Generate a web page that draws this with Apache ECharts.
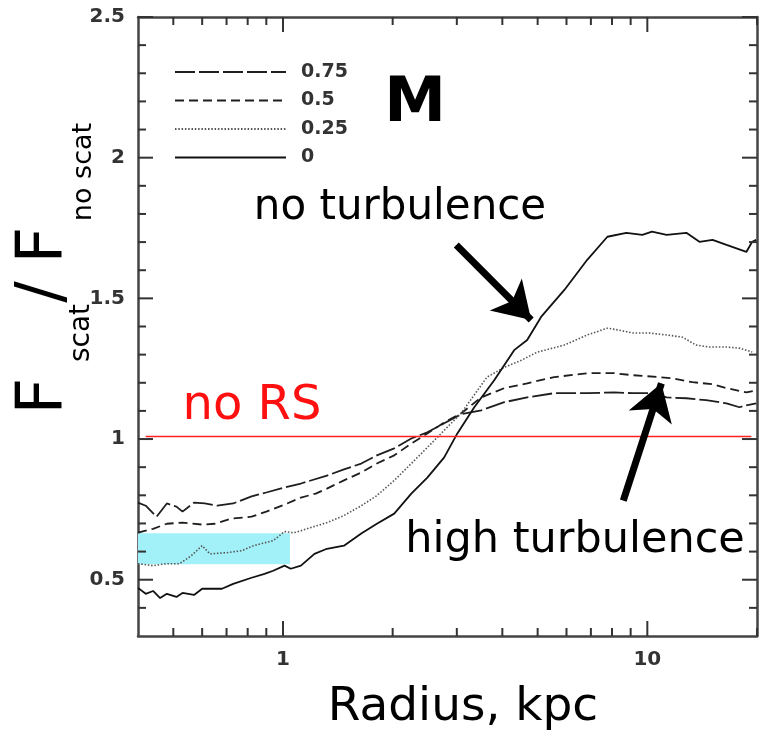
<!DOCTYPE html>
<html>
<head>
<meta charset="utf-8">
<script src="https://cdn.jsdelivr.net/npm/echarts@6/dist/echarts.min.js"></script>
<style>
html,body{margin:0;padding:0;background:#fff;}
#chart{width:760px;height:742px;}
</style>
</head>
<body>
<div id="chart"></div>
<script>
// ---- data ----
const seriesNames = ['0.75', '0.5', '0.25', '0'];

const r75 = [0.40,0.42,0.45,0.48,0.51,0.53,0.57,0.61,0.66,0.73,0.82,0.90,1.01,1.12,1.32,1.47,1.64,1.81,2.02,2.25,2.49,2.77,3.08,3.50,4.05,4.68,5.55,6.84,8.12,9.10,10.3,11.3,12.8,14.5,16.5,17.9,18.7,19.9];
const f75 = [0.774,0.763,0.724,0.771,0.760,0.742,0.774,0.771,0.763,0.771,0.796,0.810,0.828,0.842,0.870,0.892,0.913,0.942,0.967,1.002,1.024,1.056,1.088,1.102,1.131,1.148,1.163,1.163,1.166,1.163,1.163,1.148,1.145,1.138,1.127,1.113,1.120,1.127];

const r50 = [0.40,0.44,0.48,0.53,0.60,0.65,0.72,0.82,0.90,1.01,1.12,1.23,1.32,1.47,1.64,1.81,2.02,2.25,2.49,2.77,3.08,3.50,4.05,4.68,5.55,6.84,8.12,9.10,10.8,11.7,13.3,15.1,16.5,18.7,19.9];
const f50 = [0.667,0.681,0.699,0.703,0.696,0.699,0.717,0.724,0.742,0.767,0.792,0.806,0.824,0.853,0.881,0.913,0.942,0.984,1.020,1.059,1.091,1.148,1.181,1.198,1.220,1.234,1.234,1.227,1.220,1.216,1.202,1.195,1.181,1.166,1.173];

const r25 = [0.40,0.44,0.48,0.52,0.56,0.60,0.63,0.70,0.77,0.83,0.94,1.01,1.07,1.12,1.19,1.32,1.47,1.64,1.81,2.02,2.25,2.49,2.77,3.08,3.63,4.05,4.51,4.99,5.92,6.84,7.77,8.38,9.10,10.1,11.3,12.5,13.6,14.8,16.5,17.9,19.4];
const f25 = [0.557,0.550,0.557,0.557,0.585,0.621,0.592,0.596,0.603,0.621,0.639,0.671,0.667,0.674,0.685,0.703,0.728,0.763,0.799,0.853,0.913,0.970,1.031,1.091,1.220,1.255,1.280,1.309,1.334,1.370,1.394,1.387,1.377,1.377,1.370,1.362,1.334,1.327,1.327,1.323,1.309];

const r0 = [0.40,0.42,0.44,0.46,0.48,0.51,0.53,0.57,0.60,0.63,0.68,0.73,0.82,0.89,0.94,1.01,1.05,1.12,1.22,1.32,1.47,1.64,1.81,2.02,2.25,2.49,2.77,3.01,3.35,3.80,4.31,4.68,5.11,5.92,6.84,7.77,8.76,9.69,10.3,11.3,12.8,13.9,15.1,16.5,18.7,19.4,19.9];
const f0 = [0.471,0.450,0.460,0.435,0.450,0.439,0.453,0.446,0.468,0.468,0.468,0.485,0.507,0.521,0.532,0.550,0.539,0.550,0.592,0.610,0.621,0.664,0.699,0.735,0.806,0.863,0.935,1.020,1.113,1.209,1.316,1.352,1.434,1.530,1.637,1.719,1.733,1.726,1.737,1.726,1.733,1.701,1.708,1.690,1.665,1.701,1.708];

const xRange = [0.4, 20];
const yRange = [0.3, 2.5];
const xMajorTicks = [1, 10];
const xMinorTicks = [0.5,0.6,0.7,0.8,0.9,2,3,4,5,6,7,8,9,20];
const yMajorTicks = [0.5, 1, 1.5, 2, 2.5];
const yMinorTicks = [0.4,0.6,0.7,0.8,0.9,1.1,1.2,1.3,1.4,1.6,1.7,1.8,1.9,2.1,2.2,2.3,2.4];

// annotations (data coordinates)
const noRsLevel = 1.01;
const noRsX = [0.42, 19.3];
const highlightX = [0.4, 1.045];
const highlightY = [0.555, 0.665];
const arrowNoTurb = [[2.99, 1.69], [4.80, 1.423]];
const arrowHighTurb = [[8.59, 0.781], [10.93, 1.198]];

// ---- chart ----
const zip = (xs, ys) => xs.map((x, i) => [x, ys[i]]);
const FONT = 'DejaVu Sans';
const AX = '#333';
const MAJOR_LEN = 15, MINOR_LEN = 8;

function xAx(pos, labels) {
  return {
    type: 'log', logBase: 10, min: xRange[0], max: xRange[1], position: pos,
    axisLine: { show: true, onZero: false, lineStyle: { color: '#444', width: 2.5 } },
    axisTick: { show: false },
    axisLabel: labels ? { show: true, customValues: xMajorTicks, margin: 14, fontSize: 20, fontWeight: 'bold', color: '#333', fontFamily: FONT } : { show: false },
    splitLine: { show: false }, minorTick: { show: false }, minorSplitLine: { show: false }
  };
}
function yAx(pos, labels) {
  return {
    type: 'value', min: yRange[0], max: yRange[1], position: pos,
    axisLine: { show: true, onZero: false, lineStyle: { color: '#444', width: 2.5 } },
    axisTick: { show: false },
    axisLabel: labels ? { show: true, customValues: yMajorTicks, margin: 13, fontSize: 20, fontWeight: 'bold', color: '#333', fontFamily: FONT } : { show: false },
    splitLine: { show: false }
  };
}

const lineSeries = (name, xs, ys, style) => ({
  name, type: 'line', data: zip(xs, ys), xAxisIndex: 0, yAxisIndex: 0,
  symbol: 'none', showSymbol: false, smooth: false, z: 3, lineStyle: style, itemStyle: { color: style.color },
  emphasis: { disabled: true }
});

// tick marks as a custom series: [x, y, direction (0 = on x axes, 1 = on y axes), length]
const tickData = []
  .concat(xMajorTicks.map(v => [v, yRange[0], 0, MAJOR_LEN]))
  .concat(xMinorTicks.map(v => [v, yRange[0], 0, MINOR_LEN]))
  .concat(yMajorTicks.map(v => [xRange[0], v, 1, MAJOR_LEN]))
  .concat(yMinorTicks.map(v => [xRange[0], v, 1, MINOR_LEN]));

function renderTick(params, api) {
  const onX = api.value(2) === 0;
  const len = api.value(3);
  const p = api.coord([api.value(0), api.value(1)]);
  const lb = api.coord([xRange[0], yRange[0]]);
  const rt = api.coord([xRange[1], yRange[1]]);
  const st = { stroke: AX, lineWidth: 2, fill: null };
  let a, b;
  if (onX) {
    a = [p[0], lb[1], p[0], lb[1] - len];
    b = [p[0], rt[1], p[0], rt[1] + len];
  } else {
    a = [lb[0], p[1], lb[0] + len, p[1]];
    b = [rt[0], p[1], rt[0] - len, p[1]];
  }
  return {
    type: 'group',
    children: [
      { type: 'polyline', shape: { points: [[a[0], a[1]], [a[2], a[3]]] }, style: st },
      { type: 'polyline', shape: { points: [[b[0], b[1]], [b[2], b[3]]] }, style: st }
    ]
  };
}

const chart = echarts.init(document.getElementById('chart'), null, { renderer: 'canvas' });

const txt = (x, y, text, font, fill, rot) => ({
  type: 'text', x, y, rotation: rot || 0, z: 100,
  style: { text, font, fill, align: 'center', verticalAlign: 'middle' }
});

const option = {
  backgroundColor: '#fff',
  animation: false,
  grid: { left: 138, right: 3, top: 17, bottom: 106, containLabel: false },
  xAxis: [xAx('bottom', true), xAx('top', false)],
  yAxis: [yAx('left', true), yAx('right', false)],
  legend: {
    data: seriesNames, orient: 'vertical', left: 174, top: 61, padding: 0,
    itemWidth: 111, itemHeight: 14, itemGap: 6.5, selectedMode: false,
    itemStyle: { color: 'rgba(0,0,0,0)', borderWidth: 0, opacity: 0 },
    textStyle: { fontFamily: FONT, fontSize: 19, fontWeight: 'bold', color: '#333', lineHeight: 22, padding: [0, 0, 0, 10] }
  },
  series: [
    lineSeries('0.75', r75, f75, { color: '#1e1e1e', width: 1.8, type: [20, 4] }),
    lineSeries('0.5', r50, f50, { color: '#1e1e1e', width: 1.8, type: [9, 5] }),
    lineSeries('0.25', r25, f25, { color: '#555', width: 1.6, type: [1.5, 1.8] }),
    lineSeries('0', r0, f0, { color: '#111', width: 1.8, type: 'solid' }),
    {
      name: 'ticks', type: 'custom', coordinateSystem: 'cartesian2d', xAxisIndex: 0, yAxisIndex: 0,
      z: 6, silent: true, clip: false,
      encode: { x: 0, y: 1 },
      renderItem: renderTick, data: tickData
    },
    {
      name: 'annotations', type: 'line', data: [], xAxisIndex: 0, yAxisIndex: 0, z: 1,
      symbol: 'none', silent: true,
      markArea: {
        silent: true,
        itemStyle: { color: '#a2f1f8', opacity: 1 },
        data: [[{ coord: [highlightX[0], highlightY[1]] }, { coord: [highlightX[1], highlightY[0]] }]]
      }
    },
    {
      name: 'annotations2', type: 'line', data: [], xAxisIndex: 0, yAxisIndex: 0, z: 4,
      symbol: 'none', silent: true,
      markLine: {
        silent: true, animation: false,
        label: { show: false },
        emphasis: { disabled: true },
        data: [
          [{ coord: [noRsX[0], noRsLevel], symbol: 'none', lineStyle: { color: '#ff2020', width: 1.3, type: 'solid' } },
           { coord: [noRsX[1], noRsLevel], symbol: 'none' }],
          [{ coord: arrowNoTurb[0], symbol: 'none', lineStyle: { color: '#000', width: 7, type: 'solid' } },
           { coord: arrowNoTurb[1], symbol: 'arrow', symbolSize: [34, 36] }],
          [{ coord: arrowHighTurb[0], symbol: 'none', lineStyle: { color: '#000', width: 7, type: 'solid' } },
           { coord: arrowHighTurb[1], symbol: 'arrow', symbolSize: [34, 36] }]
        ]
      }
    }
  ],
  graphic: { elements: [
    txt(415, 105, 'M', 'bold 62px "DejaVu Sans"', '#000'),
    txt(400, 208, 'no turbulence', '42px "DejaVu Sans"', '#000'),
    txt(252, 407, 'no RS', '48px "DejaVu Sans"', '#ff1010'),
    txt(575, 541, 'high turbulence', '43px "DejaVu Sans"', '#000'),
    txt(463, 708, 'Radius, kpc', '47px "DejaVu Sans"', '#000'),
    txt(44, 396, 'F', '64px "DejaVu Sans"', '#000', Math.PI / 2),
    txt(82, 333, 'scat', '28px "DejaVu Sans"', '#000', Math.PI / 2),
    txt(44, 292, '/', '64px "DejaVu Sans"', '#000', Math.PI / 2),
    txt(44, 245, 'F', '64px "DejaVu Sans"', '#000', Math.PI / 2),
    txt(84, 172, 'no scat', '27px "DejaVu Sans"', '#000', Math.PI / 2)
  ] }
};
chart.setOption(option);
</script>
</body>
</html>
